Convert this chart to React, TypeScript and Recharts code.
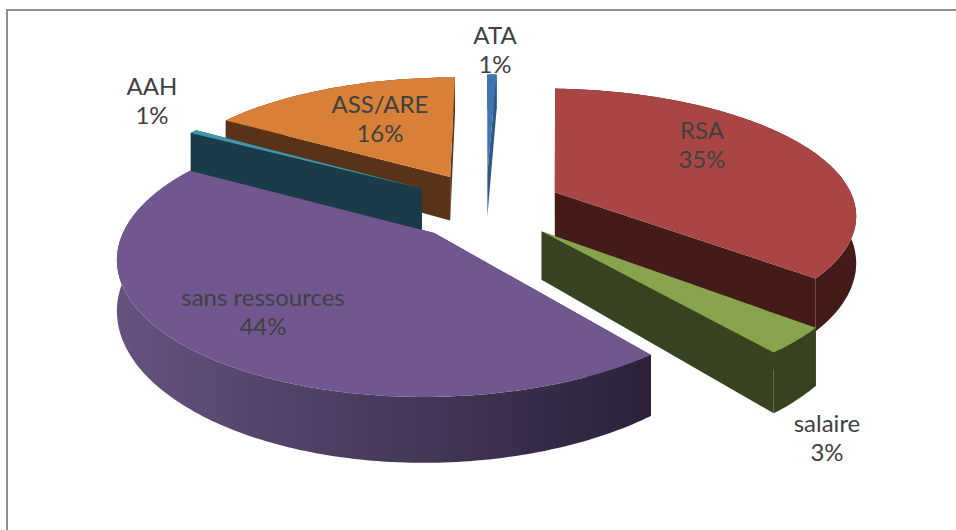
import React from 'react';
import { PieChart, Pie } from 'recharts';

const names = ['ATA', 'RSA', 'salaire', 'sans ressources', 'AAH', 'ASS/ARE'];
const values = [0.6, 35.4, 3.2, 44.2, 0.5, 16.1];
const percentLabels = ['1%', '35%', '3%', '44%', '1%', '16%'];

const faceColors = ['#3f74b0', '#a94542', '#87a44c', '#70578f', '#3f96ad', '#d98038'];
const wallColors = ['#2f5686', '#451b19', '#374320', '#2b2239', '#1a3c48', '#593217'];
const arcStartColors = ['#2f5686', '#451b19', '#374320', '#65527f', '#1a3c48', '#593217'];

const paintOrder = ['ATA', 'ASS/ARE', 'AAH', 'RSA', 'salaire', 'sans ressources'];
const labelBaselines = [
  [495, 44], [702, 139], [827, 432], [263, 306], [152, 95], [380, 113],
];

const chartData = names.map((name, i) => ({ name, value: values[i], i }));

const FONT = 'Lato, "Open Sans", sans-serif';
const SQUASH = 0.417;
const PERSPECTIVE_X = 0.16;
const PERSPECTIVE_Y = 0.17;
const PERSPECTIVE_Z = 0.25;
const EXPLODE_X = 0.255;
const EXPLODE_Y = 0.275;
const DEPTH = 46;

function makeProjector(cx: number, cy: number, r: number) {
  return (u: number, v: number, z = 0) => {
    const sx = 1 / (1 - PERSPECTIVE_X * v);
    const sy = 1 / (1 - PERSPECTIVE_Y * v);
    const sz = 1 / (1 - PERSPECTIVE_Z * v);
    return [cx + r * u * sx, cy + r * SQUASH * v * sy + DEPTH * z * sz];
  };
}

const toPath = (pts: number[][]) =>
  pts.map((p, i) => `${i ? 'L' : 'M'}${p[0].toFixed(1)} ${p[1].toFixed(1)}`).join('') + 'Z';

function Slice3D(props: any, only: string) {
  if (props.name !== only) return <g />;
  const { cx, cy, outerRadius, startAngle, endAngle, i } = props;
  const project = makeProjector(cx, cy, outerRadius);
  const a0 = ((90 - startAngle) * Math.PI) / 180;
  const a1 = ((90 - endAngle) * Math.PI) / 180;
  const mid = (a0 + a1) / 2;
  const ou = Math.sin(mid) * EXPLODE_X;
  const ov = -Math.cos(mid) * EXPLODE_Y;
  const n = Math.max(2, Math.ceil(((a1 - a0) * 180) / Math.PI));
  const rim: number[][] = [];
  for (let k = 0; k <= n; k++) {
    const a = a0 + ((a1 - a0) * k) / n;
    rim.push([ou + Math.sin(a), ov - Math.cos(a)]);
  }
  const top = rim.map(([u, v]) => project(u, v));
  const bottom = rim.map(([u, v]) => project(u, v, 1));
  const apexT = project(ou, ov);
  const apexB = project(ou, ov, 1);
  const gid = `wall-${i}`;
  const xs = top.map((p) => p[0]);
  return (
    <g>
      <defs>
        <linearGradient id={gid} gradientUnits="userSpaceOnUse" x1={Math.min(...xs)} x2={Math.max(...xs)} y1={0} y2={0}>
          <stop offset="0" stopColor={arcStartColors[i]} />
          <stop offset="1" stopColor={wallColors[i]} />
        </linearGradient>
      </defs>
      <path d={toPath([apexT, top[0], bottom[0], apexB])} fill={wallColors[i]} />
      <path d={toPath([apexT, top[n], bottom[n], apexB])} fill={wallColors[i]} />
      <path d={toPath([...top, ...bottom.slice().reverse()])} fill={`url(#${gid})`} />
      <path d={toPath([apexT, ...top])} fill={faceColors[i]} />
    </g>
  );
}

function renderLabel(props: any) {
  const i = props.index;
  const [x, y] = labelBaselines[i];
  return (
    <text key={i} x={x} y={y} textAnchor="middle" fontFamily={FONT} fontSize={24} fill="#404040">
      <tspan x={x} dy={0}>{names[i]}</tspan>
      <tspan x={x} dy={29}>{percentLabels[i]}</tspan>
    </text>
  );
}

export default function App() {
  return (
    <div style={{ position: 'absolute', left: 0, top: 0, width: 956, height: 530, background: '#fff', overflow: 'hidden' }}>
      <div style={{ position: 'absolute', left: 6, top: 9, width: 950, height: 521, borderLeft: '2px solid #8f8f8f', borderTop: '2px solid #8f8f8f', boxSizing: 'border-box' }} />
      <PieChart width={956} height={530} margin={{ top: 0, right: 0, bottom: 0, left: 0 }} style={{ position: 'absolute', left: 0, top: 0 }}>
        {paintOrder.map((only, k) => (
          <Pie
            key={only}
            data={chartData}
            dataKey="value"
            nameKey="name"
            cx={486}
            cy={206}
            innerRadius={0}
            outerRadius={301}
            startAngle={90}
            endAngle={-270}
            paddingAngle={0}
            stroke="none"
            isAnimationActive={false}
            shape={(p: any) => Slice3D(p, only)}
            labelLine={false}
            label={k === paintOrder.length - 1 ? renderLabel : false}
          />
        ))}
      </PieChart>
    </div>
  );
}
